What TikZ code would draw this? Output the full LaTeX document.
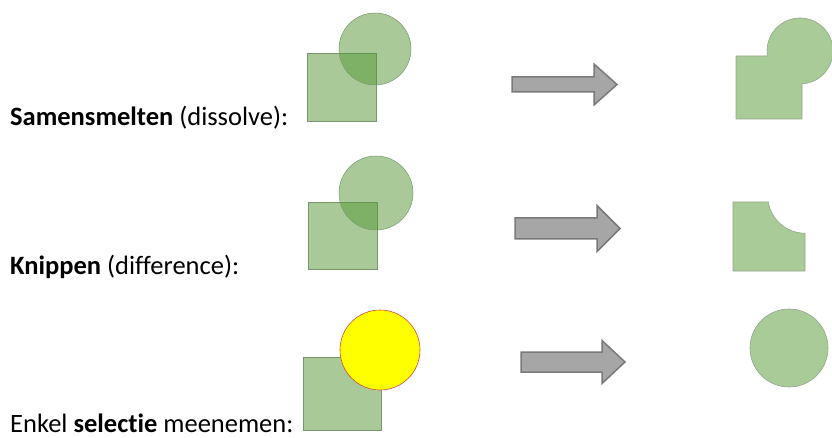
\documentclass[tikz,border=0pt]{standalone}
\usepackage{fontspec}
\setmainfont{Carlito}[Ligatures=NoCommon]
\usetikzlibrary{calc}
\definecolor{partgreen}{RGB}{84,150,50}
\definecolor{partedge}{RGB}{120,150,110}
\definecolor{resultgreen}{RGB}{169,203,152}
\definecolor{resultedge}{RGB}{150,165,140}
\definecolor{arrowfill}{RGB}{166,166,166}
\definecolor{arrowedge}{RGB}{122,122,122}
\definecolor{selyellow}{RGB}{255,255,0}
\definecolor{seledge}{RGB}{215,70,70}
% block arrow: left x, head start x, tip x, centre y, body half height, head half height
\newcommand\blockarr[6]{%
  \draw[blockarrow] (#1,#4-#5) -- (#2,#4-#5) -- (#2,#4-#6) -- (#3,#4)
    -- (#2,#4+#6) -- (#2,#4+#5) -- (#1,#4+#5) -- cycle;}
\begin{document}
\begin{tikzpicture}[x=1pt,y=-1pt,
  part/.style={fill=partgreen, fill opacity=0.5, draw=partedge, line width=0.5pt},
  result/.style={fill=resultgreen, draw=resultedge, line width=0.6pt},
  selected/.style={fill=selyellow, draw=seledge, line width=0.6pt},
  blockarrow/.style={fill=arrowfill, draw=arrowedge, line width=1.5pt, line join=miter},
  label/.style={anchor=base west, inner sep=0pt, font=\fontsize{26.5}{31}\selectfont}]
\useasboundingbox (0,0) rectangle (832,438);

% labels
\node[label] (t1) at (10,126) {\textbf{Samensmelten} (dissolve):};
\node[label] (t2) at (10,275) {\textbf{Knippen} (difference):};
\node[label] (t3) at (10,432) {Enkel \textbf{selectie} meenemen:};

% row 1: dissolve
\draw[part] (307,53) rectangle (376,121);
\draw[part] (375,49) circle[radius=36];
\blockarr{512}{594}{617}{84.5}{7.5}{20.5}
\coordinate (c1) at (800,51);
\draw[result] (736,56) -- ($(c1)+(171.3:33)$) arc[start angle=171.3, end angle=446.5, radius=33]
  -- (802,119) -- (736,119) -- cycle;

% row 2: difference
\draw[part] (308,202) rectangle (377,269);
\draw[part] (376,193) circle[radius=37];
\blockarr{515}{597}{620}{228.5}{10.5}{23}
\coordinate (c2) at (805,196);
\draw[result] (733,202) -- ($(c2)+(170.8:37.2)$) arc[start angle=170.8, end angle=90, radius=37.2]
  -- (805,271) -- (733,271) -- cycle;

% row 3: selection only
\draw[part] (303,357) rectangle (381,430);
\draw[selected] (380,350) circle[radius=40];
\blockarr{521}{602}{625}{362}{10}{21.5}
\draw[result] (789,348) circle[radius=39];
\end{tikzpicture}
\end{document}
